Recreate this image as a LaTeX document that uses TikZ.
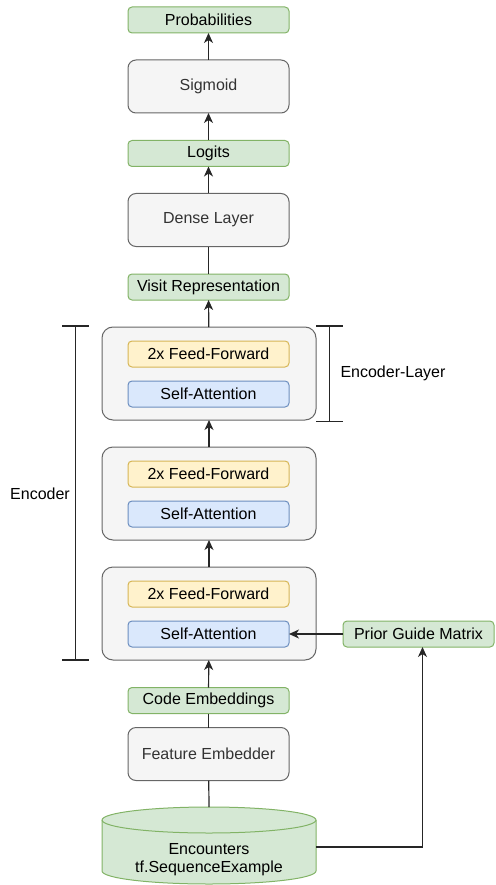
\documentclass[tikz,border=0pt]{standalone}
\usepackage{fontspec}
\setmainfont{Liberation Sans}
\usetikzlibrary{arrows.meta}
\definecolor{gfill}{HTML}{D5E8D4}
\definecolor{gline}{HTML}{82B366}
\definecolor{yfill}{HTML}{FFF2CC}
\definecolor{yline}{HTML}{D6B656}
\definecolor{bfill}{HTML}{DAE8FC}
\definecolor{bline}{HTML}{6C8EBF}
\definecolor{qfill}{HTML}{F5F5F5}
\definecolor{qline}{HTML}{666666}
\definecolor{qtext}{HTML}{333333}
\tikzset{
  base/.style={line width=1pt, inner sep=0pt, outer sep=0pt},
  grn/.style={base, draw=gline, fill=gfill, rounded corners=4pt, minimum width=161pt, minimum height=26pt},
  ylw/.style={base, draw=yline, fill=yfill, rounded corners=4pt, minimum width=161pt, minimum height=26pt},
  blu/.style={base, draw=bline, fill=bfill, rounded corners=4pt, minimum width=161pt, minimum height=26pt},
  gry/.style={base, draw=qline, fill=qfill, text=qtext, rounded corners=8pt, minimum width=161pt, minimum height=53pt},
  layerbox/.style={base, draw=qline, fill=qfill, rounded corners=11pt, minimum width=214pt, minimum height=93pt},
  conn/.style={line width=1.2pt, draw=black!85},
  arr/.style={conn, -{Stealth[length=10pt,width=9pt,inset=3pt]}},
  brk/.style={line width=1.2pt, draw=black!85},
}
\begin{document}
\begin{tikzpicture}[x=1pt,y=-1pt,font=\fontsize{16}{18}\selectfont]
\useasboundingbox (0,0) rectangle (495,885);
% top stack
\node[grn] (prob) at (208.5,20) {Probabilities};
\node[gry] (sig) at (208.5,86.5) {Sigmoid};
\node[grn] (logit) at (208.5,153.5) {Logits};
\node[gry] (dense) at (208.5,220) {Dense Layer};
\node[grn] (visit) at (208.5,287) {Visit Representation};
% encoder layers
\node[layerbox] (L1) at (209,373.5) {};
\node[ylw] (ff1) at (208.5,354) {2x Feed-Forward};
\node[blu] (sa1) at (208.5,394) {Self-Attention};
\node[layerbox] (L2) at (209,493.5) {};
\node[ylw] (ff2) at (208.5,474) {2x Feed-Forward};
\node[blu] (sa2) at (208.5,514) {Self-Attention};
\node[layerbox] (L3) at (209,613.5) {};
\node[ylw] (ff3) at (208.5,594) {2x Feed-Forward};
\node[blu] (sa3) at (208.5,634) {Self-Attention};
% bottom
\node[grn] (code) at (208.5,700.5) {Code Embeddings};
\node[gry] (feat) at (208.5,754) {Feature Embedder};
\node[grn, minimum width=151pt] (pgm) at (418.5,634) {Prior Guide Matrix};
% cylinder
\path[base, draw=gline, fill=gfill] (102,820) -- (102,871)
  arc[start angle=180, end angle=360, x radius=107pt, y radius=13pt] -- (316,820)
  arc[start angle=0, end angle=180, x radius=107pt, y radius=13pt] -- cycle;
\draw[base, draw=gline] (102,820) arc[start angle=180, end angle=360, x radius=107pt, y radius=13pt];
\node[align=center, inner sep=0pt] (enc) at (209,860) {Encounters\\tf.SequenceExample};
\coordinate (encT) at (209,807);
\coordinate (encR) at (316,847);
\coordinate (pgmB) at (422.5,647);
% connectors
\draw[arr] (sig) -- (prob);
\draw[arr] (logit) -- (sig);
\draw[arr] (dense) -- (logit);
\draw[conn] (visit) -- (dense);
\draw[arr] (L1) -- (visit);
\draw[arr] (L2) -- (L1);
\draw[arr] (L3) -- (L2);
\draw[arr] (code) -- (L3);
\draw[conn] (feat) -- (code);
\draw[conn] (encT) -- (feat);
\draw[arr] (pgm) -- (sa3);
\draw[arr] (encR) -| (pgmB);
% brackets
\draw[brk] (62,326) -- (89,326) (75.5,326) -- (75.5,660) (62,660) -- (89,660);
\draw[brk] (316,326) -- (343,326) (329.5,326) -- (329.5,421.5) (316,421.5) -- (343,421.5);
\node (encl) at (40,494) {Encoder};
\node (layl) at (393,373) {Encoder-Layer};
\end{tikzpicture}
\end{document}
